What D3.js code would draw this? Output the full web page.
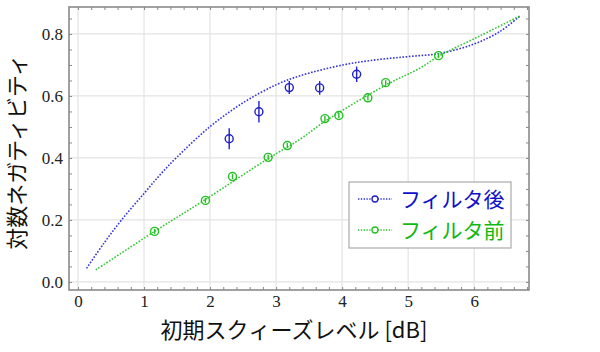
<html>
<head>
<meta charset="utf-8">
<script src="https://d3js.org/d3.v7.min.js"></script>
<style>
body { margin: 0; background: #fff; }
.num { font-family: "Liberation Serif", "Times New Roman", serif; font-size: 17px; }
</style>
</head>
<body>
<svg id="plot"></svg>
<script>

// measured points, filter after (blue) with error bars
var afterX = [2.29, 2.74, 3.20, 3.66, 4.22];
var afterY = [0.462, 0.549, 0.627, 0.626, 0.670];
var afterErr = [0.034, 0.035, 0.021, 0.022, 0.025];

// measured points, filter before (green)
var beforeX = [1.16, 1.93, 2.34, 2.88, 3.17, 3.74, 3.95, 4.39, 4.66, 5.46];
var beforeY = [0.163, 0.263, 0.340, 0.402, 0.440, 0.527, 0.537, 0.594, 0.643, 0.730];
var beforeErr = [0.008, 0.008, 0.008, 0.008, 0.008, 0.008, 0.008, 0.008, 0.008, 0.008];

// theory curves
var afterCurveX = [0.13, 0.40, 0.66, 0.99, 1.24, 1.50, 2.00, 2.50, 3.01, 3.36, 4.01, 4.53, 5.00, 5.47, 5.99, 6.39, 6.70];
var afterCurveY = [0.044, 0.127, 0.200, 0.283, 0.345, 0.403, 0.501, 0.578, 0.637, 0.665, 0.700, 0.717, 0.727, 0.737, 0.767, 0.808, 0.859];
var beforeCurveX = [0.27, 1.16, 1.93, 2.88, 3.36, 3.74, 4.66, 5.18, 5.46, 6.10, 6.70];
var beforeCurveY = [0.039, 0.163, 0.266, 0.398, 0.460, 0.518, 0.635, 0.690, 0.728, 0.795, 0.859];

var xTicks = [0, 1, 2, 3, 4, 5, 6];
var yTicks = [0.0, 0.2, 0.4, 0.6, 0.8];

var legendNames = ["フィルタ後", "フィルタ前"];
var lineColors = ["#3535d5", "#35c535"];
var markColors = ["#1f1fcc", "#22c022"];
var textColors = ["#1010c8", "#10b810"];

var width = 600, height = 352;
var padL = 69, padR = 529, padT = 7, padB = 290;

var svg = d3.select("#plot")
    .attr("width", width)
    .attr("height", height);

var xScale = d3.scaleLinear()
    .domain([-0.136, 6.83])
    .range([padL, padR]);
var yScale = d3.scaleLinear()
    .domain([-0.026, 0.887])
    .range([padB, padT]);

//grid
svg.append("g")
    .selectAll("line")
    .data(xTicks)
    .enter()
    .append("line")
    .attr("x1", function(d) { return xScale(d); })
    .attr("x2", function(d) { return xScale(d); })
    .attr("y1", padT)
    .attr("y2", padB)
    .attr("stroke", "#e3e3e3")
    .attr("stroke-width", 1.2);
svg.append("g")
    .selectAll("line")
    .data(yTicks)
    .enter()
    .append("line")
    .attr("y1", function(d) { return yScale(d); })
    .attr("y2", function(d) { return yScale(d); })
    .attr("x1", padL)
    .attr("x2", padR)
    .attr("stroke", "#e3e3e3")
    .attr("stroke-width", 1.2);

//axes with inward ticks on all four sides
var xMinor = d3.range(0, 35).map(function(i) { return i * 0.2; });
var yMinor = d3.range(0, 18).map(function(i) { return i * 0.05; });

var axisStyle = function(g) {
    g.select(".domain").remove();
    g.selectAll(".tick line").attr("stroke", "#888");
    g.selectAll("text").remove();
};

svg.append("g").attr("transform", "translate(0," + padB + ")")
    .call(d3.axisBottom(xScale).tickValues(xMinor).tickSize(-3)).call(axisStyle);
svg.append("g").attr("transform", "translate(0," + padT + ")")
    .call(d3.axisTop(xScale).tickValues(xMinor).tickSize(-3)).call(axisStyle);
svg.append("g").attr("transform", "translate(" + padL + ",0)")
    .call(d3.axisLeft(yScale).tickValues(yMinor).tickSize(-3)).call(axisStyle);
svg.append("g").attr("transform", "translate(" + padR + ",0)")
    .call(d3.axisRight(yScale).tickValues(yMinor).tickSize(-3)).call(axisStyle);

//tick labels
var labelStyle = function(g) {
    g.select(".domain").remove();
    g.attr("font-family", null).attr("font-size", null);
    g.selectAll("text")
        .attr("class", "num")
        .attr("fill", "#222");
};
svg.append("g")
    .attr("transform", "translate(0," + padB + ")")
    .call(d3.axisBottom(xScale).tickValues(xTicks).tickSize(0).tickPadding(5).tickFormat(d3.format("d")))
    .call(labelStyle);
svg.append("g")
    .attr("transform", "translate(" + padL + ",0)")
    .call(d3.axisLeft(yScale).tickValues(yTicks).tickSize(0).tickPadding(6).tickFormat(d3.format(".1f")))
    .call(labelStyle);

//frame
svg.append("rect")
    .attr("x", padL)
    .attr("y", padT)
    .attr("width", padR - padL)
    .attr("height", padB - padT)
    .attr("fill", "none")
    .attr("stroke", "#8a8a8a")
    .attr("stroke-width", 1.6);

//curves
var line = d3.line()
    .x(function(d) { return xScale(d[0]); })
    .y(function(d) { return yScale(d[1]); })
    .curve(d3.curveCatmullRom.alpha(0.5));

var curves = [d3.zip(afterCurveX, afterCurveY), d3.zip(beforeCurveX, beforeCurveY)];
curves.forEach(function(c, i) {
    svg.append("path")
        .datum(c)
        .attr("d", line)
        .attr("fill", "none")
        .attr("stroke", lineColors[i])
        .attr("stroke-width", 1.6)
        .attr("stroke-dasharray", "1.6,1.6");
});

//points with error bars
var drawPoints = function(xs, ys, es, i) {
    var pts = d3.zip(xs, ys, es);
    var g = svg.append("g");
    g.selectAll("line")
        .data(pts)
        .enter()
        .append("line")
        .attr("x1", function(d) { return xScale(d[0]); })
        .attr("x2", function(d) { return xScale(d[0]); })
        .attr("y1", function(d) { return yScale(d[1] - d[2]); })
        .attr("y2", function(d) { return yScale(d[1] + d[2]); })
        .attr("stroke", markColors[i])
        .attr("stroke-width", 1.4);
    g.selectAll("circle")
        .data(pts)
        .enter()
        .append("circle")
        .attr("cx", function(d) { return xScale(d[0]); })
        .attr("cy", function(d) { return yScale(d[1]); })
        .attr("r", 4)
        .attr("fill", "none")
        .attr("stroke", markColors[i])
        .attr("stroke-width", 1.4);
};
drawPoints(afterX, afterY, afterErr, 0);
drawPoints(beforeX, beforeY, beforeErr, 1);

//legend
var legend = svg.append("g");
legend.append("rect")
    .attr("x", 349)
    .attr("y", 182)
    .attr("width", 162)
    .attr("height", 66)
    .attr("fill", "#fff")
    .attr("stroke", "#aaa")
    .attr("stroke-width", 1.2);
legendNames.forEach(function(name, i) {
    var ly = 199 + i * 31;
    legend.append("line")
        .attr("x1", 358).attr("x2", 392)
        .attr("y1", ly).attr("y2", ly)
        .attr("stroke", lineColors[i])
        .attr("stroke-width", 1.4)
        .attr("stroke-dasharray", "1.4,1.4");
    legend.append("circle")
        .attr("cx", 375).attr("cy", ly)
        .attr("r", 3)
        .attr("fill", "#fff")
        .attr("stroke", markColors[i])
        .attr("stroke-width", 1.3);
    legend.append("text")
        .attr("x", 400)
        .attr("y", ly + 8)
        .attr("font-family", "Noto Sans CJK JP, sans-serif")
        .attr("font-size", 21)
        .attr("fill", textColors[i])
        .text(name);
});

//axis titles
svg.append("text")
    .attr("x", 294)
    .attr("y", 338)
    .attr("text-anchor", "middle")
    .attr("font-family", "Noto Sans CJK JP, sans-serif")
    .attr("font-size", 22)
    .attr("fill", "#111")
    .text("初期スクィーズレベル [dB]");

svg.append("text")
    .attr("transform", "translate(25,152) rotate(-90)")
    .attr("text-anchor", "middle")
    .attr("font-family", "Noto Sans CJK JP, sans-serif")
    .attr("font-size", 22)
    .attr("fill", "#111")
    .text("対数ネガティビティ");

</script>
</body>
</html>
